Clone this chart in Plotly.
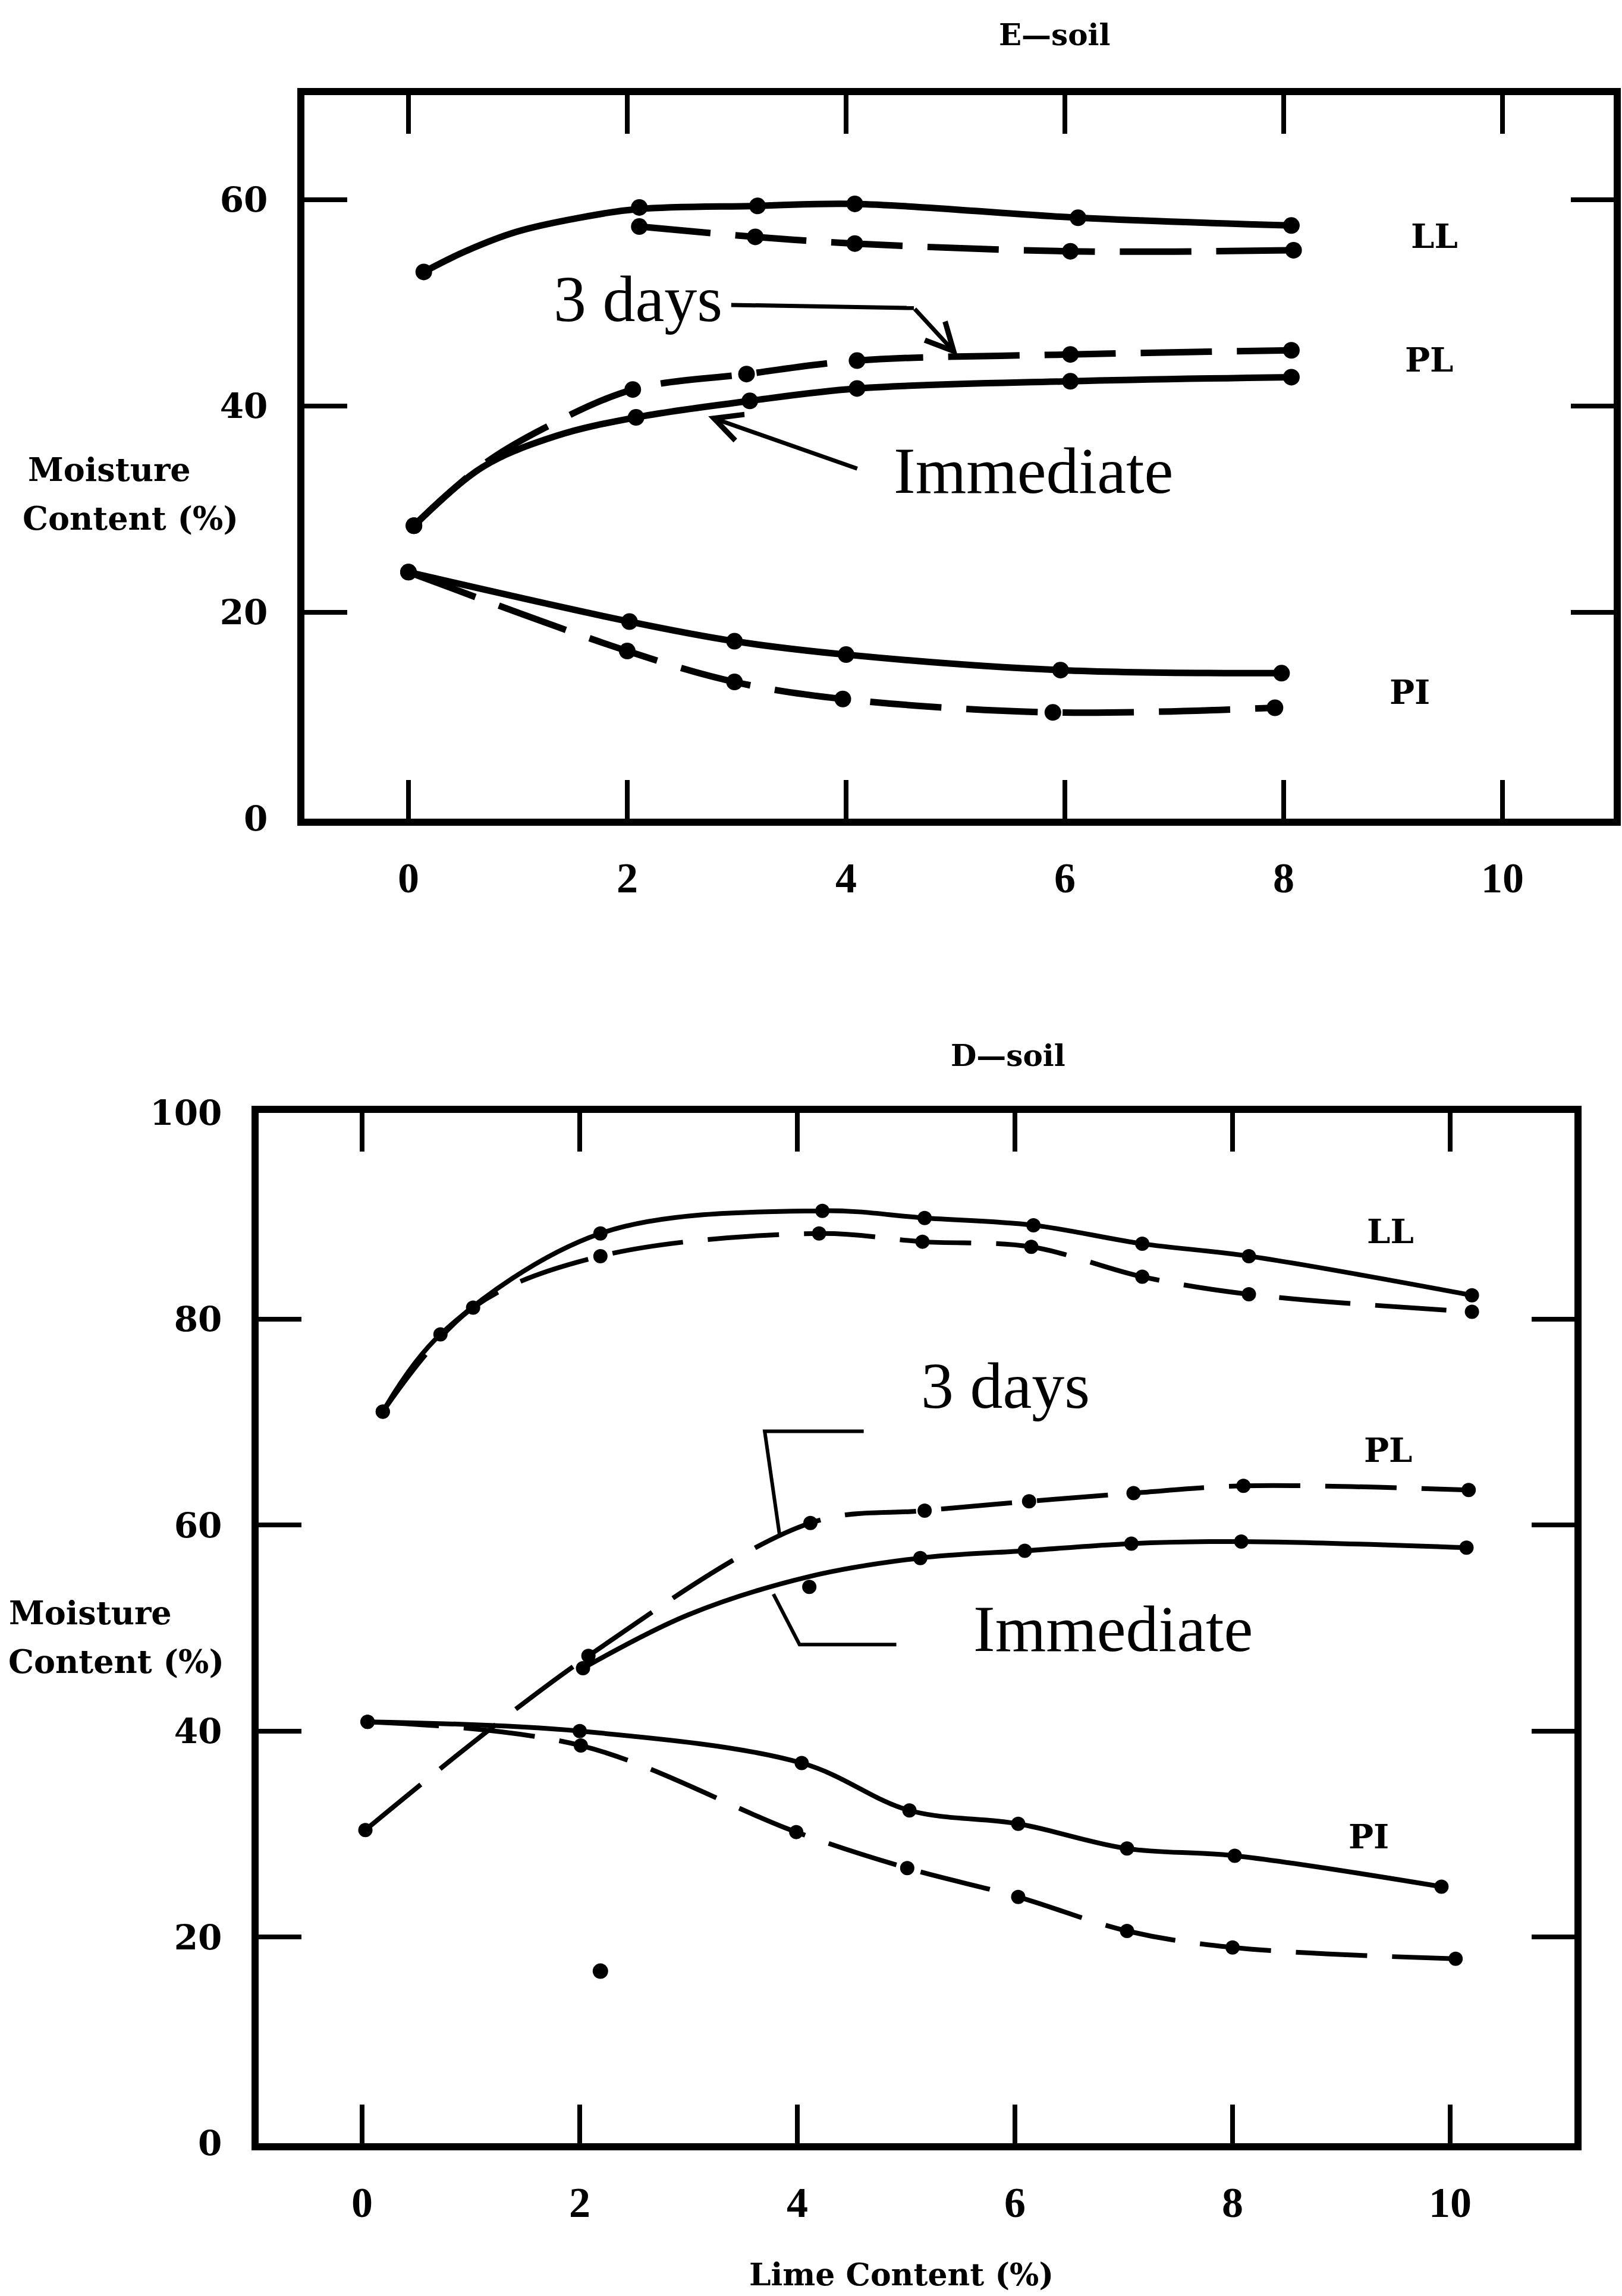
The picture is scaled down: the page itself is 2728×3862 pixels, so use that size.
import plotly.graph_objects as go

W, H = 2728, 3862

# ---------------- E-soil : moisture content vs lime content ----------------
# measured points
e_ll_imm_x = [0.14, 2.11, 3.19, 4.08, 6.12, 8.07]
e_ll_imm_y = [53.0, 59.25, 59.4, 59.6, 58.25, 57.5]
e_ll_3d_x = [2.11, 3.17, 4.08, 6.05, 8.09]
e_ll_3d_y = [57.4, 56.4, 55.75, 55.0, 55.1]

e_pl_imm_x = [0.05, 2.08, 3.12, 4.10, 6.05, 8.07]
e_pl_imm_y = [28.4, 38.9, 40.5, 41.7, 42.4, 42.8]
e_pl_3d_x = [0.05, 2.05, 3.09, 4.10, 6.05, 8.07]
e_pl_3d_y = [28.4, 41.6, 43.1, 44.4, 45.0, 45.4]

e_pi_imm_x = [0.0, 2.02, 2.98, 4.0, 5.96, 7.98]
e_pi_imm_y = [23.9, 19.1, 17.2, 15.9, 14.4, 14.1]
e_pi_3d_x = [0.0, 2.0, 2.98, 3.97, 5.89, 7.92]
e_pi_3d_y = [23.9, 16.25, 13.25, 11.6, 10.3, 10.75]

# hand-drawn trend curves where they bend between measured points
e_ll_imm_curve_x = [0.14, 0.52, 0.99, 1.56, 2.11, 3.19, 4.08, 6.12, 8.07]
e_ll_imm_curve_y = [53.0, 55.0, 56.9, 58.25, 59.1, 59.4, 59.6, 58.25, 57.5]
e_pl_imm_curve_x = [0.05, 0.68, 1.35, 2.08, 3.12, 4.10, 6.05, 8.07]
e_pl_imm_curve_y = [28.4, 34.1, 37.1, 38.9, 40.5, 41.7, 42.4, 42.8]
e_pl_3d_curve_x = [0.05, 0.68, 1.23, 2.05, 3.09, 4.10, 6.05, 8.07]
e_pl_3d_curve_y = [28.4, 34.3, 37.8, 41.6, 43.1, 44.4, 45.0, 45.4]

# ---------------- D-soil ----------------
d_ll_imm_x = [0.19, 0.72, 2.19, 4.23, 5.17, 6.17, 7.17, 8.15, 10.2]
d_ll_imm_y = [71.0, 78.5, 88.3, 90.5, 89.8, 89.1, 87.3, 86.1, 82.3]
d_ll_3d_x = [0.19, 1.02, 2.19, 4.2, 5.15, 6.15, 7.17, 8.15, 10.2]
d_ll_3d_y = [71.0, 81.1, 86.1, 88.3, 87.5, 87.0, 84.1, 82.4, 80.7]

d_pl_imm_x = [2.03, 4.11, 5.13, 6.09, 7.07, 8.08, 10.15]
d_pl_imm_y = [46.1, 54.0, 56.8, 57.5, 58.2, 58.4, 57.8]
d_pl_3d_x = [0.03, 2.08, 4.12, 5.17, 6.13, 7.09, 8.1, 10.17]
d_pl_3d_y = [30.4, 47.3, 60.2, 61.4, 62.3, 63.1, 63.8, 63.4]

d_pi_imm_x = [0.05, 2.0, 4.04, 5.03, 6.03, 7.03, 8.02, 9.92]
d_pi_imm_y = [40.9, 40.0, 36.9, 32.3, 31.0, 28.6, 27.9, 24.9]
d_pi_3d_x = [0.05, 2.01, 3.99, 5.01, 6.03, 7.03, 8.0, 10.05]
d_pi_3d_y = [40.9, 38.6, 30.2, 26.7, 23.9, 20.6, 19.0, 17.9]

d_pl_imm_curve_x = [2.03, 3.0, 4.11, 5.13, 6.09, 7.07, 8.08, 10.15]
d_pl_imm_curve_y = [46.1, 51.3, 55.0, 56.8, 57.5, 58.2, 58.4, 57.8]

d_extra_x = [2.19]
d_extra_y = [16.7]

x_ticks = [0, 2, 4, 6, 8, 10]
e_y_ticks = [0, 20, 40, 60]
d_y_ticks = [0, 20, 40, 60, 80, 100]

BLACK = "black"
SERIF = "Liberation Serif"
HEAVY = "DejaVu Serif"

fig = go.Figure()


def add_curve(x, y, xa, ya, dashed, width, msize, cx=None, cy=None):
    dash = "120px,42px" if dashed else "solid"
    if cx is None:
        fig.add_trace(go.Scatter(
            x=x, y=y, xaxis=xa, yaxis=ya, mode="lines+markers",
            line=dict(color=BLACK, width=width, shape="spline", smoothing=1.0, dash=dash),
            marker=dict(color=BLACK, size=msize),
            showlegend=False, hoverinfo="skip", cliponaxis=False,
        ))
        return
    fig.add_trace(go.Scatter(
        x=cx, y=cy, xaxis=xa, yaxis=ya, mode="lines",
        line=dict(color=BLACK, width=width, shape="spline", smoothing=1.0, dash=dash),
        showlegend=False, hoverinfo="skip", cliponaxis=False,
    ))
    fig.add_trace(go.Scatter(
        x=x, y=y, xaxis=xa, yaxis=ya, mode="markers",
        marker=dict(color=BLACK, size=msize),
        showlegend=False, hoverinfo="skip", cliponaxis=False,
    ))


# top panel
add_curve(e_ll_imm_x, e_ll_imm_y, "x", "y", False, 11, 28, e_ll_imm_curve_x, e_ll_imm_curve_y)
add_curve(e_ll_3d_x, e_ll_3d_y, "x", "y", True, 11, 28)
add_curve(e_pl_imm_x, e_pl_imm_y, "x", "y", False, 11, 28, e_pl_imm_curve_x, e_pl_imm_curve_y)
add_curve(e_pl_3d_x, e_pl_3d_y, "x", "y", True, 11, 28, e_pl_3d_curve_x, e_pl_3d_curve_y)
add_curve(e_pi_imm_x, e_pi_imm_y, "x", "y", False, 11, 28)
add_curve(e_pi_3d_x, e_pi_3d_y, "x", "y", True, 11, 28)

# bottom panel
add_curve(d_ll_imm_x, d_ll_imm_y, "x2", "y2", False, 8, 24)
add_curve(d_ll_3d_x, d_ll_3d_y, "x2", "y2", True, 8, 24)
add_curve(d_pl_imm_x, d_pl_imm_y, "x2", "y2", False, 8, 24, d_pl_imm_curve_x, d_pl_imm_curve_y)
add_curve(d_pl_3d_x, d_pl_3d_y, "x2", "y2", True, 8, 24)
add_curve(d_pi_imm_x, d_pi_imm_y, "x2", "y2", False, 8, 24)
add_curve(d_pi_3d_x, d_pi_3d_y, "x2", "y2", True, 8, 24)

fig.add_trace(go.Scatter(
    x=d_extra_x, y=d_extra_y, xaxis="x2", yaxis="y2", mode="markers",
    marker=dict(color=BLACK, size=26), showlegend=False, hoverinfo="skip",
))


def px_x(p):
    return p / W


def px_y(p):
    return 1 - p / H


axis_common = dict(
    showline=True, linecolor=BLACK, linewidth=12, mirror="allticks",
    ticks="inside", tickcolor=BLACK, tickwidth=8,
    showgrid=False, zeroline=False, automargin=False,
)
xfont = dict(family=SERIF, size=72, color=BLACK, weight="bold")
yfont = dict(family=HEAVY, size=58, color=BLACK, weight="bold")

fig.update_layout(
    width=W, height=H, autosize=False,
    margin=dict(l=0, r=0, t=0, b=0, pad=0, autoexpand=False),
    paper_bgcolor="white", plot_bgcolor="white",
    xaxis=dict(domain=[px_x(512), px_x(2714)], range=[-0.951, 11.016],
               tickvals=x_ticks, ticklen=65, tickfont=xfont,
               ticklabelstandoff=26, anchor="y", **axis_common),
    yaxis=dict(domain=[px_y(1377), px_y(160)], range=[0, 70.14],
               tickvals=e_y_ticks, ticklen=72, tickfont=yfont,
               ticklabelstandoff=38, anchor="x", **axis_common),
    xaxis2=dict(domain=[px_x(435), px_x(2648)], range=[-0.951, 11.142],
                tickvals=x_ticks, ticklen=65, tickfont=xfont,
                ticklabelstandoff=26, anchor="y2", **axis_common),
    yaxis2=dict(domain=[px_y(3605), px_y(1872)], range=[0, 100],
                tickvals=d_y_ticks, ticklen=72, tickfont=yfont,
                ticklabelstandoff=38, anchor="x2", **axis_common),
)

ann = []


def font(size, family, bold):
    return dict(family=family, size=size, color=BLACK,
                weight="bold" if bold else "normal")


def text(x, y, s, ref, size, family, bold, xanchor="center"):
    ann.append(dict(
        x=x, y=y, xref="x" + ref, yref="y" + ref, text=s, showarrow=False,
        xanchor=xanchor, yanchor="middle", font=font(size, family, bold),
    ))


def ptext(px, py, s, size, family, bold, xanchor="center"):
    ann.append(dict(
        x=px_x(px), y=px_y(py), xref="paper", yref="paper", text=s,
        showarrow=False, xanchor=xanchor, yanchor="middle",
        font=font(size, family, bold),
    ))


def arrow(tail, tip, ref):
    ann.append(dict(
        x=tip[0], y=tip[1], ax=tail[0], ay=tail[1],
        xref="x" + ref, yref="y" + ref, axref="x" + ref, ayref="y" + ref,
        text="", showarrow=True, arrowhead=5, arrowsize=1.3,
        arrowwidth=7, arrowcolor=BLACK, standoff=0, startstandoff=0,
    ))


# panel titles
ptext(1774, 58, "E—soil", 50, HEAVY, True)
ptext(1695, 1775, "D—soil", 50, HEAVY, True)

# y axis titles
ptext(45, 790, "Moisture", 54, HEAVY, True, "left")
ptext(36, 872, "Content (%)", 54, HEAVY, True, "left")
ptext(13, 2713, "Moisture", 54, HEAVY, True, "left")
ptext(12, 2795, "Content (%)", 54, HEAVY, True, "left")

# x axis title
ptext(1516, 3825, "Lime Content (%)", 52, HEAVY, True)

# curve labels
text(9.38, 56.5, "LL", "", 56, HEAVY, True)
text(9.33, 44.5, "PL", "", 56, HEAVY, True)
text(9.15, 12.3, "PI", "", 56, HEAVY, True)
text(9.45, 88.5, "LL", "2", 56, HEAVY, True)
text(9.43, 67.3, "PL", "2", 56, HEAVY, True)
text(9.25, 29.8, "PI", "2", 56, HEAVY, True)

# curing-time callouts
text(2.10, 50.4, "3 days", "", 110, SERIF, False)
text(5.71, 33.7, "Immediate", "", 110, SERIF, False)
text(5.91, 73.5, "3 days", "2", 110, SERIF, False)
text(6.90, 49.9, "Immediate", "2", 110, SERIF, False)

arrow((4.62, 49.5), (5.02, 44.9), "")
arrow((4.11, 33.9), (2.74, 39.0), "")

fig.update_layout(annotations=ann)

shapes = [
    dict(type="line", xref="x", yref="y", x0=2.95, y0=49.8, x1=4.62, y1=49.5,
         line=dict(color=BLACK, width=7)),
    dict(type="path", xref="x2", yref="y2",
         path="M 4.61,69.1 L 3.70,69.1 L 3.84,58.8",
         line=dict(color=BLACK, width=6)),
    dict(type="path", xref="x2", yref="y2",
         path="M 4.91,48.4 L 4.02,48.4 L 3.78,53.3",
         line=dict(color=BLACK, width=6)),
]
fig.update_layout(shapes=shapes)

# page without body margin so the figure fills the window exactly
fig.write_html(
    "out.html",
    post_script="document.body.style.margin='0';"
                "document.documentElement.style.overflow='hidden';",
)
